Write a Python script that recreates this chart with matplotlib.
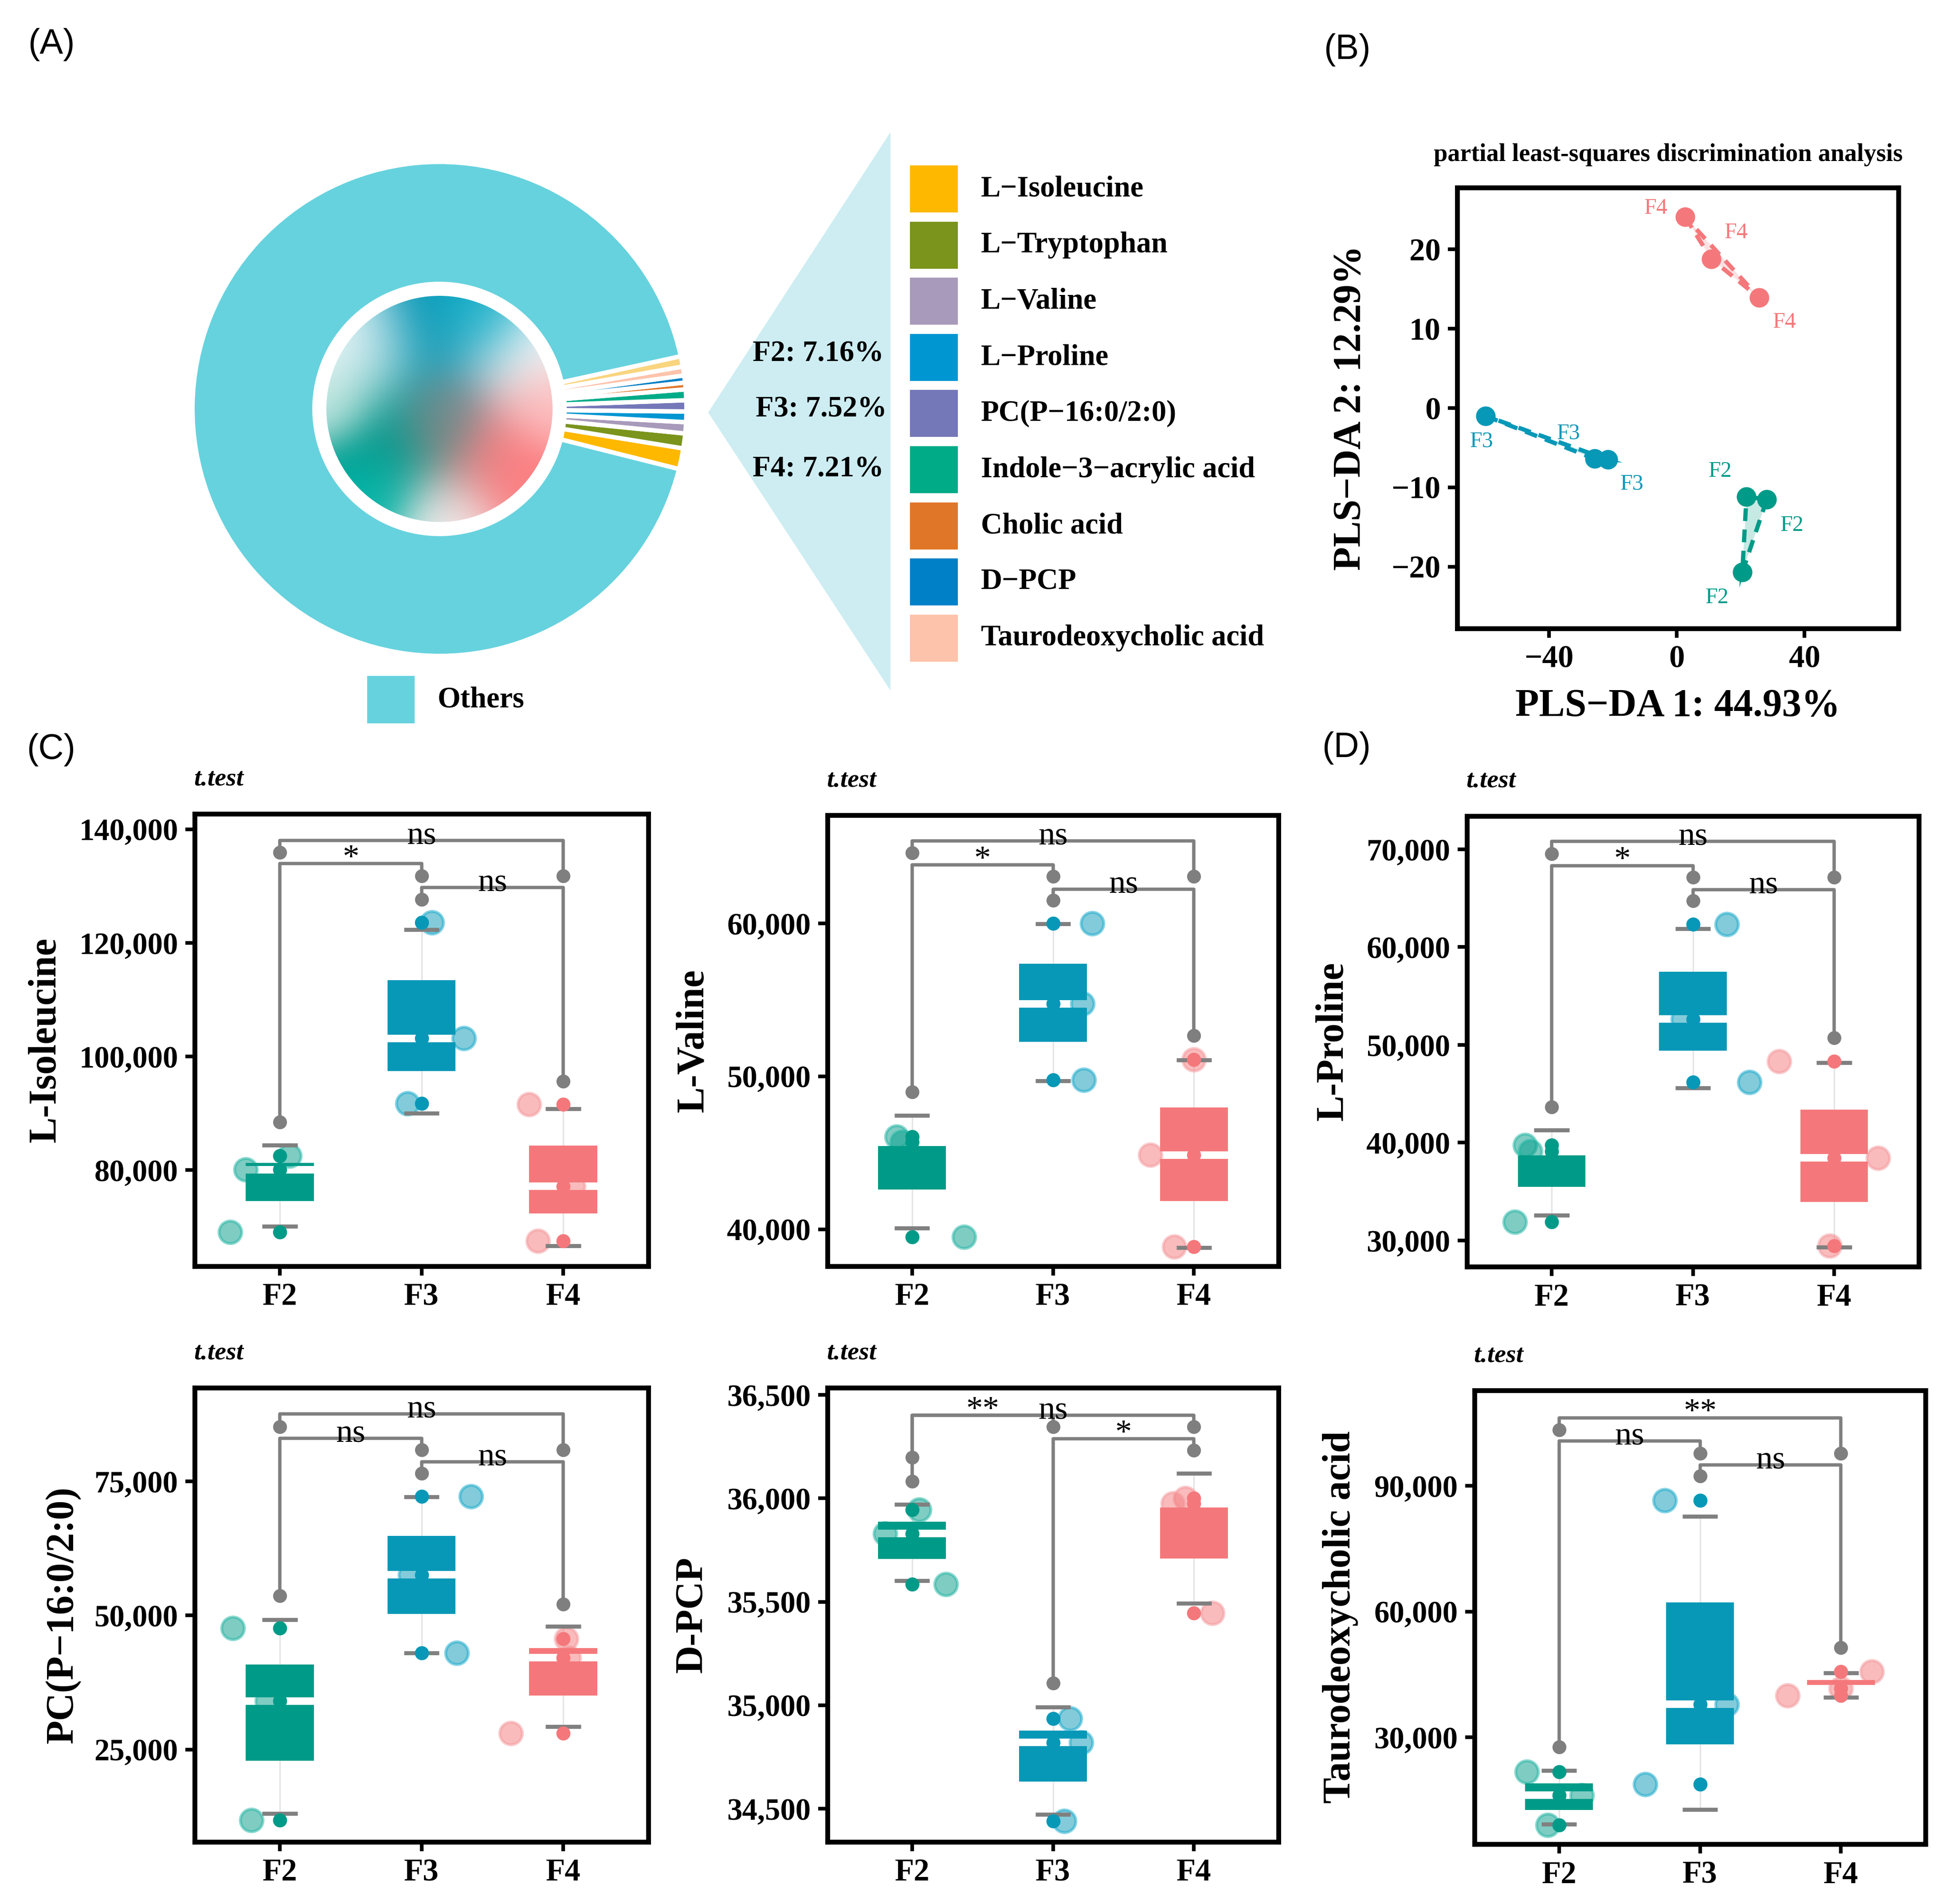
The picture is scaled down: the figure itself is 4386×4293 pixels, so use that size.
import numpy as np
import matplotlib
matplotlib.use("Agg")
import matplotlib.pyplot as plt
from matplotlib.patches import Polygon, Rectangle, Circle
from matplotlib.ticker import FuncFormatter

W, H = 4386, 4293
DPI = 300

# ---------------------------------------------------------------- data
groups = ["F2", "F3", "F4"]
group_colors = ["#009B88", "#0898B7", "#F4787B"]
jitter_edges = ["#1FB5A3", "#12A9CC", "#F59A9E"]

# panel A: donut composition (percent of total intensity)
pie_labels = ["L−Isoleucine", "L−Tryptophan", "L−Valine", "L−Proline",
              "PC(P−16:0/2:0)", "Indole−3−acrylic acid", "Cholic acid",
              "D−PCP", "Taurodeoxycholic acid"]
pie_colors = ["#FFB800", "#7A941C", "#A89ABA", "#0096D2", "#7478B8",
              "#00AB88", "#E07628", "#0080C6", "#FDC3AB"]
pie_values = [1.36, 0.97, 0.73, 0.69, 0.73, 0.70, 0.44, 0.46, 0.58]
pie_extra_value = 0.68
pie_extra_color = "#F9D57F"
others_value = 100 - sum(pie_values) - pie_extra_value
others_color = "#66D2DE"
group_share_text = ["F2: 7.16%", "F3: 7.52%", "F4: 7.21%"]

# panel B: PLS-DA scores
pls_f2_x = [21.8, 28.2, 20.5]
pls_f2_y = [-11.2, -11.5, -20.7]
pls_f3_x = [-59.9, -25.8, -21.6]
pls_f3_y = [-1.0, -6.4, -6.5]
pls_f4_x = [2.6, 10.8, 25.8]
pls_f4_y = [24.1, 18.8, 13.9]
pls_f2_lab = [(13.6, -8.0), (36.1, -14.8), (12.6, -23.9)]
pls_f3_lab = [(-61.2, -4.2), (-34.0, -3.2), (-14.1, -9.6)]
pls_f4_lab = [(-6.6, 25.2), (18.5, 22.1), (33.7, 10.8)]

# panels C/D: three replicates per group (F2, F3, F4)
isoleucine = [[82500, 80100, 69100], [123600, 103200, 91750], [91550, 77150, 67550]]
valine = [[46050, 45700, 39500], [60000, 54750, 49750], [51100, 44850, 38850]]
proline = [[39750, 39100, 31900], [62350, 52650, 46200], [48300, 38450, 29450]]
pc_p16 = [[47600, 34050, 11800], [72150, 57550, 43000], [45650, 42100, 28000]]
d_pcp = [[35945, 35830, 35585], [34935, 34820, 34440], [36000, 35975, 35445]]
tauro = [[21800, 16200, 9100], [86550, 37900, 18800], [45700, 41650, 40000]]

# horizontal jitter of the large points
isoleucine_jit = [[0.07, -0.24, -0.35], [0.075, 0.30, -0.10], [-0.24, 0.07, -0.18]]
valine_jit = [[-0.11, -0.07, 0.37], [0.28, 0.21, 0.22], [0.0, -0.31, -0.14]]
proline_jit = [[-0.19, -0.15, -0.26], [0.24, -0.07, 0.40], [-0.39, 0.31, -0.03]]
pc_p16_jit = [[-0.33, -0.09, -0.20], [0.35, -0.08, 0.25], [0.02, 0.04, -0.37]]
d_pcp_jit = [[0.05, -0.19, 0.24], [0.12, 0.20, 0.08], [-0.06, -0.15, 0.13]]
tauro_jit = [[-0.23, 0.16, -0.08], [-0.25, 0.19, -0.39], [0.22, 0.0, -0.38]]

# significance brackets: (group1, group2, bar height, end1, end2, label)
isoleucine_sig = [(1, 3, 138050, 135900, 131800, "ns"), (1, 2, 133950, 88500, 131800, "*"),
                  (2, 3, 129750, 127650, 95650, "ns")]
valine_sig = [(1, 3, 65400, 64600, 63080, "ns"), (1, 2, 63830, 48970, 63080, "*"),
              (2, 3, 62250, 61500, 52650, "ns")]
proline_sig = [(1, 3, 70800, 69550, 67160, "ns"), (1, 2, 68340, 43650, 67160, "*"),
               (2, 3, 65880, 64750, 50720, "ns")]
pc_p16_sig = [(1, 3, 87540, 85190, 80910, "ns"), (1, 2, 83050, 53700, 80910, "ns"),
              (2, 3, 78630, 76500, 52070, "ns")]
d_pcp_sig = [(1, 3, 36402, 36199, 36347, "ns"), (1, 2, 36402, 36083, 36347, "**"),
             (2, 3, 36288, 35106, 36232, "*")]
tauro_sig = [(1, 3, 106180, 103360, 97730, "**"), (1, 2, 100640, 27730, 97730, "ns"),
             (2, 3, 95000, 92270, 51360, "ns")]

panel_names = ["L-Isoleucine", "L-Valine", "L-Proline", "PC(P−16:0/2:0)", "D-PCP",
               "Taurodeoxycholic acid"]
panel_ylims = [(63100, 142700), (37580, 67080), (27320, 73400), (7760, 92450),
               (34339, 36535), (4545, 112730)]
panel_yticks = [[80000, 100000, 120000, 140000], [40000, 50000, 60000],
                [30000, 40000, 50000, 60000, 70000], [25000, 50000, 75000],
                [34500, 35000, 35500, 36000, 36500], [30000, 60000, 90000]]

# ---------------------------------------------------------------- style
plt.rcParams['font.family'] = ['Liberation Serif', 'DejaVu Serif']
plt.rcParams['font.weight'] = 'bold'
plt.rcParams['axes.unicode_minus'] = True

fig = plt.figure(figsize=(W / DPI, H / DPI), dpi=DPI)
fig.patch.set_facecolor("white")


def fx(px):
    return px / W


def fy(py):
    return 1 - py / H


def fig_axes(left, top, right, bottom):
    return fig.add_axes([fx(left), fy(bottom), fx(right - left), (bottom - top) / H])


# overlay for panel A decorations (pixel coordinates)
ov = fig.add_axes([0, 0, 1, 1])
ov.set_xlim(0, W)
ov.set_ylim(H, 0)
ov.axis("off")

# zoom triangle
ov.add_patch(Polygon([(1597, 930), (2008, 298), (2008, 1557)], closed=True,
                     facecolor="#CDEDF2", edgecolor="none", zorder=1))
share_pos = [(1993, 798), (2000, 923), (1993, 1058)]
for txt, (x, y) in zip(group_share_text, share_pos):
    ov.text(x, y, txt, ha="right", va="center", fontsize=16, fontweight="bold", zorder=3)

# legend of compounds
for i, (lab, col) in enumerate(zip(pie_labels, pie_colors)):
    top = 373 + i * 126.6
    ov.add_patch(Rectangle((2052, top), 108, 106, facecolor=col, edgecolor="none", zorder=2))
    ov.text(2212, top + 53, lab, ha="left", va="center", fontsize=16, fontweight="bold")
ov.add_patch(Rectangle((828, 1524), 107, 107, facecolor=others_color, edgecolor="none"))
ov.text(987, 1578, "Others", ha="left", va="center", fontsize=16, fontweight="bold")

# donut
R_PX = 557
axp = fig_axes(991 - R_PX, 922 - R_PX, 991 + R_PX, 922 + R_PX)
vals = pie_values + [pie_extra_value, others_value]
cols = pie_colors + [pie_extra_color, others_color]
axp.pie(vals, colors=cols, radius=1.0, startangle=-14.1, counterclock=True,
        wedgeprops=dict(width=0.494, edgecolor="white", linewidth=2.4))
axp.set_xlim(-1, 1)
axp.set_ylim(-1, 1)
axp.set_aspect("equal")
axp.axis("off")

# gradient core (decorative smooth blend)
r_in = 255 / R_PX
n = 500
g = np.linspace(-r_in, r_in, n)
gx, gy = np.meshgrid(g, g)
ctrl = [(0.0, 0.68, "#0092B2", 0.42), (0.35, 0.88, "#12B8D0", 0.25),
        (-0.72, 0.52, "#FFFFFF", 0.33), (0.68, 0.48, "#FFFFFF", 0.33),
        (-0.98, 0.05, "#DDF2EC", 0.22),
        (-0.45, -0.32, "#009689", 0.42), (-0.62, -0.78, "#00BFB2", 0.25),
        (0.03, -0.05, "#7E8686", 0.22),
        (0.52, -0.42, "#FF7D80", 0.42), (0.97, 0.02, "#FFC4C4", 0.22),
        (0.02, -1.0, "#FFFFFF", 0.28)]
num = np.zeros((n, n, 3))
den = np.zeros((n, n))
for cx, cy, c, sg in ctrl:
    rgb = np.array(matplotlib.colors.to_rgb(c))
    d2 = (gx / r_in - cx) ** 2 + (gy / r_in - cy) ** 2
    w = np.exp(-d2 / (2 * sg ** 2)) + 1e-9
    num += w[..., None] * rgb
    den += w
img = np.clip(num / den[..., None], 0, 1)
im = axp.imshow(img, extent=(-r_in, r_in, -r_in, r_in), origin="lower", zorder=5,
                interpolation="bilinear")
im.set_clip_path(Circle((0, 0), r_in, transform=axp.transData))

# ---------------------------------------------------------------- panel B
axb = fig_axes(3286, 423, 4281, 1417)
pls_sets = [(pls_f2_x, pls_f2_y, pls_f2_lab), (pls_f3_x, pls_f3_y, pls_f3_lab),
            (pls_f4_x, pls_f4_y, pls_f4_lab)]
for (xs, ys, labs), col, name in zip(pls_sets, group_colors, groups):
    axb.add_patch(Polygon(list(zip(xs, ys)), closed=True, facecolor=col, alpha=0.22,
                          edgecolor="none", zorder=2))
    axb.add_patch(Polygon(list(zip(xs, ys)), closed=True, fill=False, edgecolor=col,
                          linestyle=(0, (3, 2)), linewidth=2.3, zorder=3))
    axb.plot(xs, ys, "o", color=col, ms=9.6, zorder=4)
    for (lx, ly) in labs:
        axb.text(lx, ly, name, color=col, fontsize=12, fontweight="normal",
                 ha="center", va="center", zorder=5)
axb.set_xlim(-68.8, 69.4)
axb.set_ylim(-27.8, 27.8)
axb.set_xticks([-40, 0, 40])
axb.set_yticks([-20, -10, 0, 10, 20])
for s in axb.spines.values():
    s.set_linewidth(2.6)
axb.tick_params(direction="out", length=5, width=2, labelsize=17, pad=4)
axb.set_xlabel("PLS−DA 1: 44.93%", fontsize=21, fontweight="bold", va="center")
axb.xaxis.set_label_coords(0.5, -0.176)
axb.set_ylabel("PLS−DA 2: 12.29%", fontsize=21, fontweight="bold", va="center")
axb.yaxis.set_label_coords(-0.242, 0.5)
fig.text(fx(3762), fy(349), "partial least-squares discrimination analysis",
         ha="center", va="center", fontsize=13.5, fontweight="bold")

# ---------------------------------------------------------------- panels C/D
panel_data = [isoleucine, valine, proline, pc_p16, d_pcp, tauro]
panel_jit = [isoleucine_jit, valine_jit, proline_jit, pc_p16_jit, d_pcp_jit, tauro_jit]
panel_sig = [isoleucine_sig, valine_sig, proline_sig, pc_p16_sig, d_pcp_sig, tauro_sig]
panel_boxes = [(439, 1835, 1462, 2855), (1866, 1838, 2883, 2855), (3308, 1840, 4327, 2856),
               (439, 3129, 1462, 4153), (1866, 3129, 2883, 4153), (3325, 3135, 4342, 4158)]
panel_ylab_x = [-0.328, -0.297, -0.296, -0.29, -0.30, -0.297]

BR = "#7F7F7F"
for k in range(6):
    left, top, right, bottom = panel_boxes[k]
    ax = fig_axes(left, top, right, bottom)
    ylo, yhi = panel_ylims[k]
    ax.set_xlim(0.4, 3.6)
    ax.set_ylim(ylo, yhi)
    gap = 8.5 / (bottom - top) * (yhi - ylo)
    for i, (vals_g, jit, col, ecol) in enumerate(zip(panel_data[k], panel_jit[k],
                                                     group_colors, jitter_edges)):
        x = i + 1
        v = np.array(vals_g, float)
        q1, med, q3 = np.percentile(v, [25, 50, 75])
        m, sd = v.mean(), v.std(ddof=1)
        ax.vlines(x, m - sd, m + sd, color="#E4E4E4", lw=0.8, zorder=1)
        ax.scatter(x + np.array(jit), v, s=150, facecolor=col, alpha=0.5,
                   edgecolor=ecol, linewidth=1.6, zorder=2)
        lo_h = (med - gap) - q1
        if lo_h > 0:
            ax.bar(x, lo_h, bottom=q1, width=0.48, color=col, zorder=3)
        hi_h = q3 - (med + gap)
        if hi_h > 0:
            ax.bar(x, hi_h, bottom=med + gap, width=0.48, color=col, zorder=3)
        ax.hlines([m - sd, m + sd], x - 0.125, x + 0.125, color="#808080", lw=2.2, zorder=4)
        ax.scatter([x] * len(v), v, s=58, color=col, linewidth=0, zorder=5)
    for (g1, g2, ybar, ye1, ye2, lab) in panel_sig[k]:
        ax.plot([g1, g1, g2, g2], [ye1, ybar, ybar, ye2], color=BR, lw=1.8,
                solid_joinstyle="round", solid_capstyle="round", zorder=6)
        ax.plot([g1, g2], [ye1, ye2], "o", color=BR, ms=6.5, zorder=6)
        ax.annotate(lab, xy=((g1 + g2) / 2, ybar), xytext=(0, -1.8),
                    textcoords="offset points", ha="center", va="baseline",
                    fontsize=18, fontweight="normal", zorder=7)
    ax.set_xticks([1, 2, 3])
    ax.set_xticklabels(groups)
    ax.set_yticks(panel_yticks[k])
    ax.yaxis.set_major_formatter(FuncFormatter(lambda v, p: f"{v:,.0f}"))
    for s in ax.spines.values():
        s.set_linewidth(2.6)
    ax.tick_params(direction="out", length=5, width=2, pad=4)
    ax.tick_params(axis="y", labelsize=16.5)
    ax.tick_params(axis="x", labelsize=17)
    ax.set_ylabel(panel_names[k], fontsize=21, fontweight="bold", va="center")
    ax.yaxis.set_label_coords(panel_ylab_x[k], 0.5)
    fig.text(fx(left - 2), fy(top - 78), "t.test", ha="left", va="center",
             fontsize=14, fontweight="bold", fontstyle="italic")

# panel letters
letter_font = ["Liberation Sans", "DejaVu Sans"]
for lab, (x, y) in zip(["(A)", "(B)", "(C)", "(D)"],
                       [(63, 100), (2985, 112), (60, 1690), (2981, 1686)]):
    fig.text(fx(x), fy(y), lab, ha="left", va="center", fontsize=19,
             fontweight="normal", family=letter_font)

fig.savefig("out.png", dpi=DPI, facecolor="white")
